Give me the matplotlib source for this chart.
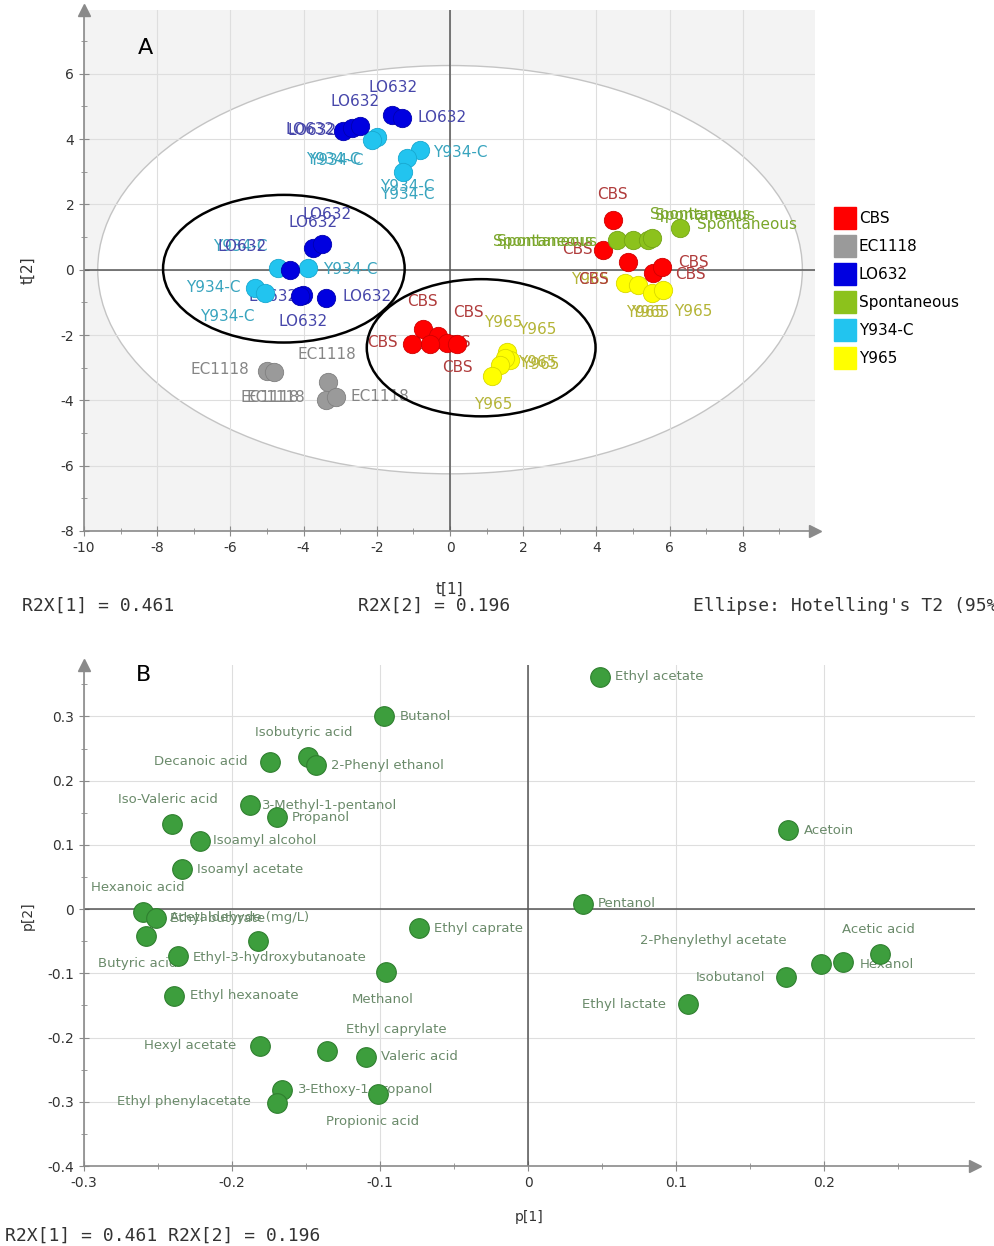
import matplotlib.pyplot as plt
from matplotlib.patches import Ellipse
from matplotlib.lines import Line2D
from matplotlib.ticker import MultipleLocator

plt.rcParams["axes.unicode_minus"] = False

# ---------------- panel A : scores t[1] / t[2] ----------------
groups = ["CBS", "EC1118", "LO632", "Spontaneous", "Y934-C", "Y965"]

cbs_t1 = [-0.74, -1.04, -0.33, -0.08, 0.19, -0.55, 4.45, 4.18, 4.86, 5.55, 5.79]
cbs_t2 = [-1.83, -2.29, -2.02, -2.23, -2.29, -2.29, 1.53, 0.61, 0.24, -0.09, 0.09]

ec_t1 = [-5.00, -4.81, -3.33, -3.39, -3.11]
ec_t2 = [-3.09, -3.12, -3.43, -3.98, -3.91]

lo_t1 = [-2.92, -2.68, -2.46, -1.58, -1.31, -3.74, -3.50, -4.37, -4.02, -3.39, -4.10]
lo_t2 = [4.25, 4.34, 4.40, 4.74, 4.65, 0.67, 0.80, 0.00, -0.76, -0.86, -0.80]

sp_t1 = [4.56, 5.00, 5.41, 5.52, 6.28]
sp_t2 = [0.92, 0.92, 0.92, 0.98, 1.28]

y934_t1 = [-1.99, -2.13, -0.82, -1.17, -1.28, -4.70, -3.88, -5.33, -5.05]
y934_t2 = [4.07, 3.98, 3.67, 3.43, 3.00, 0.06, 0.06, -0.55, -0.70]

y965_t1 = [1.56, 1.64, 1.50, 1.37, 1.15, 4.78, 5.14, 5.52, 5.82]
y965_t2 = [-2.51, -2.75, -2.69, -2.91, -3.24, -0.40, -0.46, -0.70, -0.61]

# label offsets in pixels (layout only)
cbs_off = [(-1, 28), (-30, 2), (30, 23), (8, 0), (0, -23), (0, 0),
           (-1, 25), (-26, 0), (-35, -18), (37, -2), (31, 4)]
ec_off = [(-47, 1), (2, -26), (-1, 27), (-56, 2), (44, 1)]
lo_off = [(-33, 1), (-40, -3), (-5, 24), (1, 27), (40, 0), (0, 25),
          (5, 29), (-48, 23), (-30, -2), (41, 1), (3, -26)]
sp_off = [(-74, -2), (-86, -2), (52, 25), (53, 22), (67, 3)]
y934_off = [(-44, -23), (-36, -21), (40, -3), (0, -29), (4, -23),
            (-38, 21), (42, -2), (-42, 0), (-38, -24)]
y965_off = [(-4, 29), (27, 30), (32, -5), (40, 0), (1, -29),
            (-35, 3), (7, -28), (-2, -20), (30, -22)]

fill = {"CBS": "#ff0000", "EC1118": "#9a9a9a", "LO632": "#0000e0",
        "Spontaneous": "#8cc21c", "Y934-C": "#22c4ef", "Y965": "#ffff00"}
edge = {"CBS": "#d00000", "EC1118": "#808080", "LO632": "#0000b0",
        "Spontaneous": "#74a416", "Y934-C": "#18a8d0", "Y965": "#d8d800"}
txt = {"CBS": "#b03c3c", "EC1118": "#858585", "LO632": "#4646aa",
       "Spontaneous": "#7aa62a", "Y934-C": "#38a4be", "Y965": "#b4b436"}

# ---------------- panel B : loadings p[1] / p[2] ----------------
compounds = ["Ethyl acetate", "Butanol", "Isobutyric acid", "2-Phenyl ethanol",
             "Decanoic acid", "Iso-Valeric acid", "3-Methyl-1-pentanol", "Propanol",
             "Isoamyl alcohol", "Isoamyl acetate", "Hexanoic acid", "Ethyl butyrate",
             "Acetaldehyde (mg/L)", "Butyric acid", "Ethyl-3-hydroxybutanoate",
             "Methanol", "Ethyl caprate", "Ethyl hexanoate", "Hexyl acetate",
             "Ethyl caprylate", "Valeric acid", "3-Ethoxy-1-propanol",
             "Ethyl phenylacetate", "Propionic acid", "Pentanol", "Acetoin",
             "Ethyl lactate", "Isobutanol", "2-Phenylethyl acetate", "Hexanol",
             "Acetic acid"]
p1 = [0.0486, -0.0973, -0.1486, -0.1432, -0.1743, -0.2405, -0.1878, -0.1696,
      -0.2216, -0.2338, -0.2601, -0.2514, -0.2581, -0.2365, -0.1824,
      -0.0959, -0.0736, -0.2392, -0.1811, -0.1358, -0.1095, -0.1662,
      -0.1696, -0.1014, 0.0372, 0.1757, 0.1081, 0.1743, 0.1980, 0.2128, 0.2378]
p2 = [0.362, 0.300, 0.236, 0.224, 0.229, 0.132, 0.162, 0.143,
      0.106, 0.062, -0.005, -0.014, -0.042, -0.073, -0.050,
      -0.098, -0.030, -0.135, -0.213, -0.221, -0.230, -0.2815,
      -0.302, -0.288, 0.008, 0.123, -0.148, -0.106, -0.0855, -0.0824, -0.070]

# (dx, dy, ha) per label, pixels
b_lab = [(15, 0, "left"), (16, 0, "left"), (-4, 25, "center"), (15, 0, "left"),
         (-22, 0, "right"), (-4, 25, "center"), (12, 0, "left"), (15, 0, "left"),
         (13, 0, "left"), (15, 0, "left"), (-5, 25, "center"), (14, 0, "left"),
         (24, 19, "left"), (-40, -8, "center"), (-65, -16, "left"),
         (-3, -27, "center"), (15, 0, "left"), (16, 0, "left"), (-24, 0, "right"),
         (69, 22, "center"), (15, 0, "left"), (16, 0, "left"),
         (-26, 2, "right"), (-5, -27, "center"), (15, 0, "left"), (16, 0, "left"),
         (-22, 0, "right"), (-21, 0, "right"), (-108, 23, "center"), (17, -2, "left"),
         (-2, 25, "center")]

AX_GRAY = "#8a8a8a"

fig = plt.figure(figsize=(9.94, 12.46), dpi=100)


def style_axes(ax):
    for s in ["top", "right"]:
        ax.spines[s].set_visible(False)
    for s in ["left", "bottom"]:
        ax.spines[s].set_color(AX_GRAY)
        ax.spines[s].set_linewidth(1.2)
    ax.tick_params(which="major", direction="inout", length=7, color=AX_GRAY,
                   labelsize=10, labelcolor="#333333")
    ax.tick_params(which="minor", direction="inout", length=5, color=AX_GRAY)
    ax.plot(1, 0, marker=">", color=AX_GRAY, markersize=9, transform=ax.transAxes,
            clip_on=False, zorder=6)
    ax.plot(0, 1, marker="^", color=AX_GRAY, markersize=9, transform=ax.transAxes,
            clip_on=False, zorder=6)
    ax.axhline(0, color="#555555", lw=1.1, zorder=1)
    ax.axvline(0, color="#555555", lw=1.1, zorder=1)
    ax.set_axisbelow(True)
    ax.grid(True, which="major", color="#dedede", lw=0.8)


# ---- A ----
axA = fig.add_axes([84 / 994, 1 - 531 / 1246, 731 / 994, 521 / 1246])
axA.set_facecolor("#f3f3f3")
axA.set_xlim(-10, 9.97)
axA.set_ylim(-8, 7.95)
axA.xaxis.set_minor_locator(MultipleLocator(1))
axA.yaxis.set_major_locator(MultipleLocator(2))
axA.yaxis.set_minor_locator(MultipleLocator(1))
axA.set_xticks(range(-10, 10, 2))
style_axes(axA)

axA.add_patch(Ellipse((0, 0), 19.25, 12.5, facecolor="white", edgecolor="#c4c4c4",
                      lw=1.0, zorder=0.3))
axA.add_patch(Ellipse((-4.54, 0.03), 6.6, 4.52, facecolor="none", edgecolor="black",
                      lw=1.8, zorder=5))
axA.add_patch(Ellipse((0.85, -2.39), 6.25, 4.2, facecolor="none", edgecolor="black",
                      lw=1.8, zorder=5))

series = {"CBS": (cbs_t1, cbs_t2, cbs_off), "EC1118": (ec_t1, ec_t2, ec_off),
          "LO632": (lo_t1, lo_t2, lo_off), "Spontaneous": (sp_t1, sp_t2, sp_off),
          "Y934-C": (y934_t1, y934_t2, y934_off), "Y965": (y965_t1, y965_t2, y965_off)}
draw_order = ["Y934-C", "Y965", "CBS", "Spontaneous", "EC1118", "LO632"]
for k, g in enumerate(draw_order):
    xs, ys, offs = series[g]
    axA.scatter(xs, ys, s=175, color=fill[g], edgecolor=edge[g], linewidth=0.6,
                zorder=4 + k * 0.01)
    for x, y, (dx, dy) in zip(xs, ys, offs):
        axA.annotate(g, (x, y), xytext=(dx, dy), textcoords="offset pixels",
                     ha="center", va="center", fontsize=11, color=txt[g], zorder=3)

axA.set_xlabel("t[1]", fontsize=11, color="#333333")
axA.set_ylabel("t[2]", fontsize=11, color="#333333")
axA.xaxis.set_label_coords(0.5, -0.098)
axA.yaxis.set_label_coords(-0.067, 0.5)
fig.text(145 / 994, 1 - 48 / 1246, "A", fontsize=16, ha="center", va="center")

handles = [Line2D([], [], marker="s", linestyle="", markersize=16, color=fill[g],
                  markeredgecolor=fill[g]) for g in groups]
axA.legend(handles, groups, loc="upper left", bbox_to_anchor=(1.02, 0.625),
           frameon=False, fontsize=11, handletextpad=0.3, labelspacing=0.85,
           borderaxespad=0, handlelength=1.2)

mono = "DejaVu Sans Mono"
fig.text(22 / 994, 1 - 606 / 1246, "R2X[1] = 0.461", fontsize=13, family=mono,
         va="center", color="#333333")
fig.text(358 / 994, 1 - 606 / 1246, "R2X[2] = 0.196", fontsize=13, family=mono,
         va="center", color="#333333")
fig.text(693 / 994, 1 - 606 / 1246, "Ellipse: Hotelling's T2 (95%)", fontsize=13,
         family=mono, va="center", color="#333333")

# ---- B ----
axB = fig.add_axes([84 / 994, 1 - 1166 / 1246, 891 / 994, 501 / 1246])
axB.set_xlim(-0.3, 0.302)
axB.set_ylim(-0.4, 0.38)
axB.xaxis.set_minor_locator(MultipleLocator(0.05))
axB.yaxis.set_minor_locator(MultipleLocator(0.05))
axB.set_xticks([-0.3, -0.2, -0.1, 0, 0.1, 0.2])
axB.set_xticklabels(["-0.3", "-0.2", "-0.1", "0", "0.1", "0.2"])
axB.set_yticks([-0.4, -0.3, -0.2, -0.1, 0, 0.1, 0.2, 0.3])
axB.set_yticklabels(["-0.4", "-0.3", "-0.2", "-0.1", "0", "0.1", "0.2", "0.3"])
style_axes(axB)

axB.scatter(p1, p2, s=200, color="#3d9e3d", edgecolor="#2f7f2f", linewidth=0.8, zorder=4)
for name, x, y, (dx, dy, ha) in zip(compounds, p1, p2, b_lab):
    axB.annotate(name, (x, y), xytext=(dx, dy), textcoords="offset pixels",
                 ha=ha, va="center", fontsize=9.5, color="#6a8a6a", zorder=3)

axB.set_xlabel("p[1]", fontsize=10, color="#333333")
axB.set_ylabel("p[2]", fontsize=10, color="#333333")
axB.xaxis.set_label_coords(0.5, -0.088)
axB.yaxis.set_label_coords(-0.055, 0.5)
fig.text(143 / 994, 1 - 675 / 1246, "B", fontsize=16, ha="center", va="center")

fig.text(5 / 994, 1 - 1236 / 1246, "R2X[1] = 0.461 R2X[2] = 0.196", fontsize=13,
         family=mono, va="center", color="#333333")

fig.savefig("out.png", dpi=100)
